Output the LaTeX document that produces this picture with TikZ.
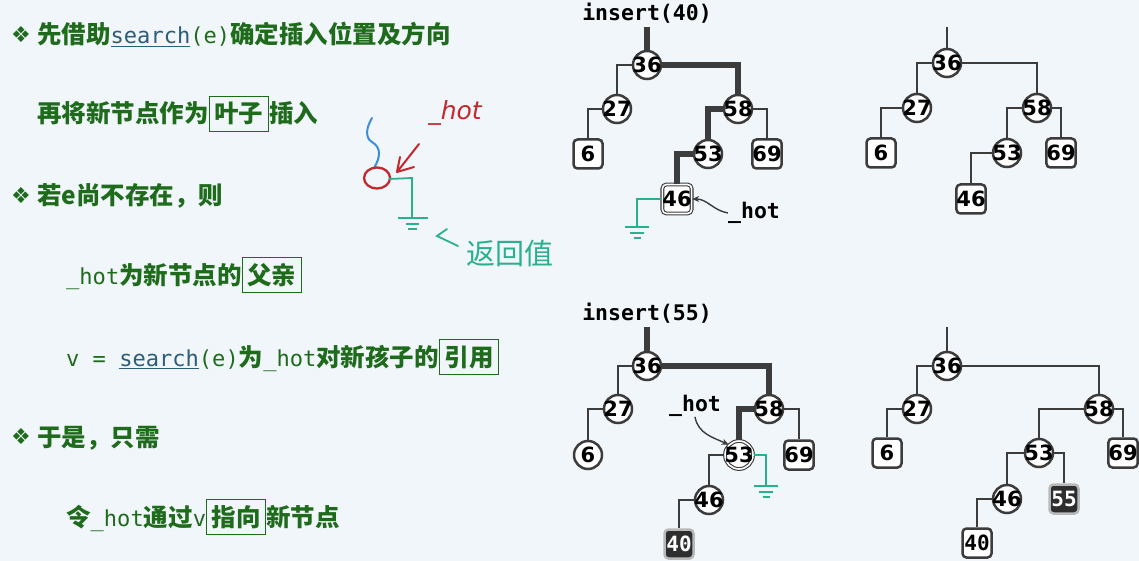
\documentclass[tikz,border=0pt]{standalone}
\usepackage{fontspec}
\setmainfont{DejaVu Sans}
\newfontfamily\cjk{Noto Sans CJK SC}
\newfontfamily\code{DejaVu Sans Mono}
\newfontfamily\codes{DejaVu Sans Mono}[Scale=0.9]
\newfontfamily\symb{DejaVu Sans}
\usetikzlibrary{arrows.meta}

\definecolor{pagebg}{HTML}{F1F6FB}
\definecolor{txtgreen}{HTML}{1F6B1C}
\definecolor{srchblue}{HTML}{2D5D78}
\definecolor{edgegray}{HTML}{3C3C3C}
\definecolor{inkred}{HTML}{C4282D}
\definecolor{inkblue}{HTML}{3B8FD8}
\definecolor{inkteal}{HTML}{2AB08E}
\definecolor{newnode}{HTML}{2E2E2E}

\newcommand\cd[1]{{\codes\mdseries #1}}
\newcommand\srch{{\codes\mdseries\color{srchblue}\underline{search}}}
\newcommand\kbox[1]{\fbox{\rule[-0.15em]{0pt}{1.02em}#1}}
\setlength\fboxrule{1.2pt}
\setlength\fboxsep{4.5pt}

\begin{document}
\begin{tikzpicture}[x=1pt, y=-1pt,
  circ/.style={circle, draw=edgegray, line width=2.5pt, fill=white, minimum size=28pt, inner sep=-2.5pt, font=\bfseries\fontsize{21}{21}\selectfont},
  leaf/.style={circ, rectangle, rounded corners=4pt, inner sep=0pt, minimum size=29pt},
  hot/.style={double=white, double distance=1.6pt, line width=1.1pt},
  fresh/.style={leaf, fill=newnode, draw=gray!55, text=white, font=\code\bfseries\fontsize{21}{21}\selectfont},
  plain/.style={leaf, font=\code\bfseries\fontsize{21}{21}\selectfont},
  edge/.style={draw=edgegray, line width=2.8pt},
  hl/.style={draw=edgegray, line width=5.5pt},
  cmd/.style={inner sep=0pt, font=\code\bfseries\fontsize{21.5}{21.5}\selectfont},
  hotarr/.style={draw=edgegray, line width=1.4pt, -{Stealth[length=7pt, width=6pt]}},
  gnd/.style={draw=inkteal, line width=1.4pt},
  bul/.style={inner sep=0pt, text=txtgreen, font=\symb\fontsize{22}{22}\selectfont},
  line/.style={anchor=base west, inner sep=0pt, text=txtgreen, font=\cjk\bfseries\fontsize{24.5}{28}\selectfont},
  ground/.pic={\draw[gnd] (-12,0) -- (12,0) (-7,6) -- (7,6) (-3.5,11) -- (3.5,11);}]
  \fill[pagebg] (0,0) rectangle (1139,561);
  \useasboundingbox (0,0) rectangle (1139,561);

  % left column
  \node[bul] (b1) at (21,35) {❖};
  \node[line] (t1) at (37,44) {先借助\srch\cd{(e)}确定插入位置及方向};
  \node[line] (t2) at (37,123) {再将新节点作为\kbox{叶子}插入};
  \node[bul] (b2) at (21,196) {❖};
  \node[line] (t3) at (37,205) {若e尚不存在，则};
  \node[line] (t4) at (66,284) {\cd{\_hot}为新节点的\kbox{父亲}};
  \node[line] (t5) at (66,366) {\cd{v = }\srch\cd{(e)}为\cd{\_hot}对新孩子的\kbox{引用}};
  \node[bul] (b3) at (21,437) {❖};
  \node[line] (t6) at (37,446) {于是，只需};
  \node[line] (t7) at (66,526) {令\cd{\_hot}通过\cd{v}\kbox{指向}新节点};

  % hand notes
  \draw[inkblue, line width=2pt, line cap=round] (372,118) .. controls (366,128) and (365,138) .. (372,142) .. controls (382,148) and (380,158) .. (374,168);
  \draw[inkred, line width=2.3pt] (377,178) ellipse [x radius=13, y radius=10.5];
  \draw[inkred, line width=2pt, line cap=round, line join=round] (419,144) -- (397,172) (400,157) -- (397,172) -- (414,167);
  \node[text=inkred, font=\itshape\fontsize{25}{25}\selectfont] (hnote) at (455,113) {\_hot};
  \draw[gnd, line width=1.8pt] (389,179) -- (412,178) -- (412,218);
  \draw[gnd, line width=1.6pt] (398,218) -- (428,218) (406,224) -- (419,224) (408,229) -- (417,229);
  \draw[gnd, line width=1.8pt, line cap=round] (447,229) -- (437,236) -- (458,246);
  \node[text=inkteal, font=\cjk\fontsize{29}{29}\selectfont] (rnote) at (510,253) {返回值};

  % insert(40)
  \node[cmd] (ins40) at (647,13) {insert(40)};
  \coordinate (a0) at (647,27);
  \node[circ] (a36) at (647,65) {36};
  \node[circ] (a27) at (617,109) {27};
  \node[circ] (a58) at (738,109) {58};
  \node[leaf] (a6) at (588,154) {6};
  \node[circ] (a53) at (708,154) {53};
  \node[leaf] (a69) at (767,154) {69};
  \node[leaf, hot] (a46) at (677,199) {46};
  \node[cmd] (hot1) at (754,213) {\_hot};
  \coordinate (g1) at (637,227);
  \draw[hl] (a0) -- (a36);
  \draw[edge] (a36.west) -| (a27.north);
  \draw[hl] (a36.east) -| (a58.north);
  \draw[edge] (a27.west) -| (a6.north);
  \draw[hl] (a58.west) -| (a53.north);
  \draw[edge] (a58.east) -| (a69.north);
  \draw[hl] (a53.west) -| (a46.north);
  \draw[hotarr] (hot1.west) to[out=170, in=0] (a46.east);
  \draw[gnd] (a46.west) -| (g1);
  \pic at (g1) {ground};

  % after insert(40)
  \coordinate (b0) at (947,27);
  \node[circ] (b36) at (947,63) {36};
  \node[circ] (b27) at (917,108) {27};
  \node[circ] (b58) at (1037,108) {58};
  \node[leaf] (b6) at (881,153) {6};
  \node[circ] (b53) at (1007,153) {53};
  \node[leaf] (b69) at (1061,153) {69};
  \node[leaf] (b46) at (971,199) {46};
  \draw[edge] (b0) -- (b36);
  \draw[edge] (b36.west) -| (b27.north);
  \draw[edge] (b36.east) -| (b58.north);
  \draw[edge] (b27.west) -| (b6.north);
  \draw[edge] (b58.west) -| (b53.north);
  \draw[edge] (b58.east) -| (b69.north);
  \draw[edge] (b53.west) -| (b46.north);

  % insert(55)
  \node[cmd] (ins55) at (647,313) {insert(55)};
  \coordinate (c0) at (647,327);
  \node[circ] (c36) at (647,366) {36};
  \node[circ] (c27) at (618,409) {27};
  \node[circ] (c58) at (769,409) {58};
  \node[circ] (c6) at (588,455) {6};
  \node[circ, hot] (c53) at (739,455) {53};
  \node[leaf] (c69) at (799,455) {69};
  \node[circ] (c46) at (709,500) {46};
  \node[fresh] (c40) at (679,544) {40};
  \node[cmd] (hot2) at (695,406) {\_hot};
  \coordinate (g2) at (766,486);
  \draw[hl] (c0) -- (c36);
  \draw[edge] (c36.west) -| (c27.north);
  \draw[hl] (c36.east) -| (c58.north);
  \draw[edge] (c27.west) -| (c6.north);
  \draw[hl] (c58.west) -| (c53.north);
  \draw[edge] (c58.east) -| (c69.north);
  \draw[edge] (c53.west) -| (c46.north);
  \draw[edge] (c46.west) -| (c40.north);
  \draw[hotarr] (hot2.south) to[out=-80, in=155] (c53.north west);
  \draw[gnd] (c53.east) -| (g2);
  \pic at (g2) {ground};

  % after insert(55)
  \coordinate (d0) at (947,327);
  \node[circ] (d36) at (947,366) {36};
  \node[circ] (d27) at (917,409) {27};
  \node[circ] (d58) at (1099,409) {58};
  \node[leaf] (d6) at (887,453) {6};
  \node[circ] (d53) at (1039,453) {53};
  \node[leaf] (d69) at (1123,453) {69};
  \node[circ] (d46) at (1007,499) {46};
  \node[fresh] (d55) at (1064,499) {55};
  \node[plain] (d40) at (977,543) {40};
  \draw[edge] (d0) -- (d36);
  \draw[edge] (d36.west) -| (d27.north);
  \draw[edge] (d36.east) -| (d58.north);
  \draw[edge] (d27.west) -| (d6.north);
  \draw[edge] (d58.west) -| (d53.north);
  \draw[edge] (d58.east) -| (d69.north);
  \draw[edge] (d53.west) -| (d46.north);
  \draw[edge] (d53.east) -| (d55.north);
  \draw[edge] (d46.west) -| (d40.north);
\end{tikzpicture}
\end{document}
